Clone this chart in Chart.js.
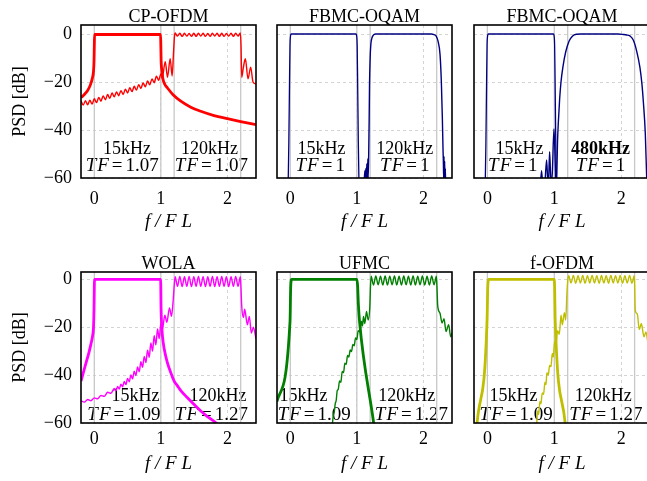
<!DOCTYPE html>
<html>
<head>
<meta charset="utf-8">
<script src="https://cdn.jsdelivr.net/npm/chart.js@4"></script>
<style>
  html, body { margin: 0; padding: 0; background: #fff; overflow: hidden; }
  #fig { position: relative; width: 647px; height: 481px; overflow: hidden; background: #fff; }
  #fig canvas { position: absolute; }
</style>
</head>
<body>
<div id="fig"></div>
<script>
var FONT = '"Liberation Serif", "Times New Roman", serif';
Chart.defaults.font.family = FONT;
Chart.defaults.color = '#000';

// axes
var xTicks = [0, 1, 2];
var yTicks = [0, -20, -40, -60];
var bandEdges = [0, 1, 1.2, 2.2];

// shared x positions of the ripple peaks/troughs inside the 120kHz band
var passX = [1.215, 1.25, 1.285, 1.32, 1.355, 1.39, 1.425, 1.46, 1.495, 1.53, 1.565, 1.6, 1.635, 1.67, 1.705,
  1.74, 1.775, 1.81, 1.845, 1.88, 1.915, 1.95, 1.985, 2.02, 2.055, 2.09, 2.125, 2.16, 2.195];

// CP-OFDM
var cp15X = [-0.2, -0.15, -0.1, -0.06, -0.03, -0.012, -0.004, 0, 0.004, 0.996, 1.0, 1.004, 1.012, 1.03, 1.06, 1.1,
  1.18, 1.3, 1.45, 1.6, 1.8, 2.0, 2.2, 2.43];
var cp15Y = [-26.5, -25.2, -23.5, -21.3, -18.5, -15.5, -11, -5, -0.2, -0.2, -5, -11, -14.5, -18.5, -21, -22.5,
  -25.2, -28, -30.5, -32.2, -34, -35.3, -36.5, -37.8];
var cp120X = [-0.2, -0.167, -0.133, -0.1, -0.067, -0.033, 0, 0.033, 0.067, 0.1, 0.133, 0.167, 0.2, 0.233, 0.267,
  0.3, 0.333, 0.367, 0.4, 0.433, 0.467, 0.5, 0.533, 0.567, 0.6, 0.633, 0.667, 0.7, 0.733, 0.767, 0.8, 0.833,
  0.867, 0.9, 0.933, 0.967, 1.0, 1.02, 1.066, 1.1, 1.14, 1.17, 1.19, 1.205, ...passX,
  2.205, 2.215, 2.24, 2.27, 2.31, 2.35, 2.385, 2.43];
var cp120Y = [-27.8, -29.6, -27.8, -29.5, -27.6, -29.2, -27.0, -28.6, -26.4, -28.0, -25.8, -27.4, -25.2, -26.8,
  -24.6, -26.2, -24.1, -25.7, -23.6, -25.2, -23.0, -24.6, -22.4, -24.0, -21.8, -23.4, -21.1, -22.7, -20.4, -22.0,
  -19.6, -21.2, -18.7, -20.3, -17.6, -19.3, -16.6, -18.5, -11.5, -18, -10.3, -17.5, -8, -1,
  0.4, -0.9, 0.3, -1.0, 0.3, -0.9, 0.2, -1.0, 0.3, -1.0, 0.3, -0.9, 0.3, -1.0, 0.2, -1.0, 0.3, -0.9, 0.3, -1.0,
  0.3, -1.0, 0.2, -0.9, 0.3, -1.0, 0.3, -0.9, 0.4,
  -5, -18, -14, -10.3, -18.7, -13.8, -20, -20.8];

// FBMC-OQAM
var fb15X = [-0.04, -0.022, -0.012, -0.005, 0.003, 0.015, 0.985, 0.997, 1.005, 1.012, 1.022, 1.04];
var fb15Y = [-75, -45, -20, -5, -0.8, 0, 0, -0.8, -5, -20, -45, -75];
var fb120X = [1.1, 1.11, 1.12, 1.125, 1.135, 1.14, 1.15, 1.155, 1.165, 1.17, 1.178, 1.185, 1.19, 1.2, 1.21,
  1.225, 1.245, 1.28, 2.12, 2.16, 2.19, 2.22, 2.25, 2.27, 2.285, 2.295, 2.3, 2.305, 2.31, 2.315, 2.32, 2.325,
  2.33, 2.335, 2.345];
var fb120Y = [-75, -62, -57, -62, -56, -62, -54, -62, -52, -60, -50, -36, -22, -10, -4.5, -1.8, -0.6, 0, 0,
  -0.3, -0.8, -3, -8.5, -20, -35, -48, -53, -60, -51, -62, -53, -63, -56, -65, -75];
var fb480X = [0.785, 0.81, 0.835, 0.86, 0.885, 0.905, 0.915, 0.93, 0.95, 0.97, 0.995, 1.015, 1.028, 1.038,
  1.048, 1.06, 1.08, 1.1, 1.13, 1.17, 1.22, 1.27, 1.33, 1.4, 1.95, 2.03, 2.08, 2.13, 2.18, 2.23, 2.28, 2.31,
  2.33, 2.36, 2.38, 2.4];
var fb480Y = [-66, -57, -66, -62, -52.5, -62, -61, -49, -62, -58, -39.6, -55, -66, -58, -45, -37, -27, -20,
  -13.5, -7.5, -3, -0.9, -0.1, 0, 0, -0.2, -0.4, -0.8, -2.5, -7, -14, -21, -28, -41.6, -59.6, -75];

// WOLA
var wo15X = [-0.2, -0.16, -0.12, -0.08, -0.05, -0.025, -0.012, -0.004, 0.003, 0.997, 1.003, 1.01, 1.025, 1.05,
  1.1, 1.15, 1.2, 1.25, 1.3, 1.4, 1.5, 1.6, 1.7, 1.8, 1.9];
var wo15Y = [-42.5, -38.5, -34.5, -30.5, -27, -23.5, -20, -12, -0.1, -0.1, -12, -18, -24, -29, -35, -39, -42.5,
  -44.5, -46.5, -49.5, -52.3, -55, -57.3, -59.3, -61.5];
var wo120X = [-0.2, -0.15, -0.1, -0.05, 0, 0.05, 0.1, 0.15, 0.2, 0.25, 0.3, 0.325, 0.35, 0.375, 0.4, 0.425,
  0.45, 0.475, 0.5, 0.525, 0.55, 0.575, 0.6, 0.625, 0.65, 0.675, 0.7, 0.725, 0.75, 0.775, 0.8, 0.825, 0.85,
  0.875, 0.9, 0.925, 0.95, 0.975, 1.0, 1.02, 1.06, 1.09, 1.13, 1.16, 1.185, 1.2, ...passX,
  2.205, 2.215, 2.24, 2.26, 2.3, 2.33, 2.36, 2.39, 2.43];
var wo120Y = [-50.8, -51.3, -50.2, -50.7, -49.5, -49.9, -48.5, -48.9, -47.2, -47.6, -45.6, -46.6, -44.8, -45.8,
  -43.8, -44.9, -42.7, -44.0, -41.4, -42.8, -40.0, -41.6, -38.4, -40.2, -36.6, -38.6, -34.4, -36.8, -32.2,
  -34.8, -29.6, -32.6, -26.6, -30.0, -23.6, -27.4, -20.8, -24.8, -18.5, -21.5, -15, -18, -12, -15.5, -9, -3,
  1.0, -3.0, 1.1, -3.1, 1.0, -3.0, 1.1, -3.1, 1.0, -3.0, 1.1, -3.0, 1.0, -3.1, 1.0, -3.0, 1.1, -3.1, 1.0, -3.0,
  1.1, -3.0, 1.0, -3.1, 1.0, -3.0, 1.1, -3.0, 1.0,
  -4, -11, -16, -12.5, -19, -15.5, -22.5, -20, -25];

// UFMC
var uf15X = [-0.2, -0.004, 0.006, 0.02, 1.0, 1.012, 1.022, 1.04, 1.25, 1.28];
var uf15Y = [-51, -17.5, -3, -0.1, -0.1, -3, -10, -17.5, -59.5, -66];
var uf120X = [0.625, 0.645, 0.66, 0.675, 0.69, 0.705, 0.72, 0.74, 0.76, 0.78, 0.8, 0.82, 0.84, 0.86, 0.88, 0.9,
  0.92, 0.94, 0.96, 0.98, 1.0, 1.02, 1.045, 1.07, 1.085, 1.1, 1.12, 1.145, 1.17, 1.195, 1.205, ...passX,
  2.205, 2.215, 2.25, 2.28, 2.31, 2.34, 2.38, 2.41, 2.43];
var uf120Y = [-63, -57, -55.5, -52, -50.5, -46.5, -46, -42.5, -43, -38.5, -39, -35, -35.5, -31.8, -32.5, -29.5,
  -30.2, -27.2, -27.8, -24.5, -25.2, -21.5, -22, -17.5, -19.5, -15.5, -18.5, -13.5, -17, -11.5, -3,
  1.2, -2.4, 1.3, -2.3, 1.2, -2.4, 1.3, -2.4, 1.2, -2.3, 1.3, -2.4, 1.2, -2.4, 1.3, -2.3, 1.2, -2.4, 1.3, -2.4,
  1.2, -2.3, 1.3, -2.4, 1.2, -2.4, 1.3, -2.3, 1.2,
  -4, -11, -14.2, -18.3, -16.5, -21.8, -19, -24, -22.5];

// f-OFDM
var fo15X = [-0.17, -0.155, -0.004, 0.006, 0.02, 1.0, 1.006, 1.012, 1.16, 1.175];
var fo15Y = [-66, -60.5, -16.5, -3, -0.1, -0.1, -5, -16, -59.5, -66];
var fo120X = [0.735, 0.75, 0.765, 0.785, 0.8, 0.82, 0.84, 0.86, 0.875, 0.89, 0.91, 0.93, 0.95, 0.97, 0.985,
  1.005, 1.025, 1.05, 1.075, 1.1, 1.12, 1.15, 1.17, 1.19, 1.205, ...passX,
  2.2, 2.21, 2.24, 2.27, 2.3, 2.34, 2.37, 2.41, 2.43];
var fo120Y = [-62, -55, -56.5, -51, -52, -47.5, -48, -43, -44, -39, -40, -36, -36.5, -31, -32.5, -26, -27, -21.5,
  -23, -15, -19, -14, -17, -5, 0.5,
  1.5, -1.6, 1.6, -1.7, 1.5, -1.6, 1.6, -1.7, 1.5, -1.6, 1.6, -1.6, 1.5, -1.7, 1.6, -1.6, 1.5, -1.7, 1.6, -1.6,
  1.5, -1.6, 1.6, -1.7, 1.5, -1.6, 1.6, -1.7, 1.5,
  -2, -13, -14.5, -21, -18.5, -24, -22, -28, -27];

// layout of the 2x3 grid (pixels)
var rows = [
  { top: 25, bottom: 178, yMax: 3.75, axisH: 56, tickPad: 10, titlePad: 1, noteY: [-47.9, -55.1] },
  { top: 272, bottom: 423, yMax: 3, axisH: 53, tickPad: 5, titlePad: 0.5, noteY: [-49, -56.7] }
];
var cols = [{ left: 81, right: 256 }, { left: 277, right: 452 }, { left: 474, right: 650 }];

var panels = [
  { title: 'CP-OFDM', row: 0, col: 0, color: '#ff0000', thick: 2.8, narrow: [cp15X, cp15Y], wide: [cp120X, cp120Y],
    notes: [['15kHz', 0.49], ['1.07', 0.42], ['120kHz', 1.73], ['1.07', 1.76]] },
  { title: 'FBMC-OQAM', row: 0, col: 1, color: '#000080', thick: 1.3, narrow: [fb15X, fb15Y], wide: [fb120X, fb120Y],
    notes: [['15kHz', 0.47], ['1', 0.45], ['120kHz', 1.72], ['1', 1.72]] },
  { title: 'FBMC-OQAM', row: 0, col: 2, color: '#000080', thick: 1.3, narrow: [fb15X, fb15Y], wide: [fb480X, fb480Y],
    notes: [['15kHz', 0.48], ['1', 0.38], ['480kHz', 1.69, true], ['1', 1.69]] },
  { title: 'WOLA', row: 1, col: 0, color: '#ff00ff', thick: 2.8, narrow: [wo15X, wo15Y], wide: [wo120X, wo120Y],
    notes: [['15kHz', 0.62], ['1.09', 0.445], ['120kHz', 1.86], ['1.27', 1.76]] },
  { title: 'UFMC', row: 1, col: 1, color: '#007f00', thick: 2.8, narrow: [uf15X, uf15Y], wide: [uf120X, uf120Y],
    notes: [['15kHz', 0.2], ['1.09', 0.36], ['120kHz', 1.75], ['1.27', 1.82]] },
  { title: 'f-OFDM', row: 1, col: 2, color: '#bfbf00', thick: 2.8, narrow: [fo15X, fo15Y], wide: [fo120X, fo120Y],
    notes: [['15kHz', 0.39], ['1.09', 0.43], ['120kHz', 1.73], ['1.27', 1.77]] }
];

function pts(xs, ys) {
  return xs.map(function (x, i) { return { x: x, y: ys[i] }; });
}

// "TF=value" with italic T and F
function drawTF(ctx, value, cx, cy) {
  var parts = [['T', 'italic', 1], ['F', 'italic', 3], ['=', 'normal', 3], [value, 'normal', 0]];
  var total = 0;
  parts.forEach(function (p) {
    ctx.font = p[1] + ' 19px ' + FONT;
    p.w = ctx.measureText(p[0]).width;
    total += p.w + p[2];
  });
  var x = cx - total / 2;
  ctx.textAlign = 'left';
  parts.forEach(function (p) {
    ctx.font = p[1] + ' 19px ' + FONT;
    ctx.fillText(p[0], x, cy);
    x += p.w + p[2];
  });
}

var decor = {
  id: 'panelDecor',
  beforeDatasetsDraw: function (chart, args, opts) {
    var ctx = chart.ctx, xs = chart.scales.x, ys = chart.scales.y;
    ctx.save();
    ctx.fillStyle = '#000';
    ctx.textBaseline = 'middle';
    opts.notes.forEach(function (n, i) {
      var px = xs.getPixelForValue(n[1]);
      var py = ys.getPixelForValue(opts.noteY[i % 2]);
      if (i % 2 === 0) {
        ctx.font = (n[2] ? 'bold ' : '') + '18px ' + FONT;
        ctx.textAlign = 'center';
        ctx.fillText(n[0], px, py);
      } else {
        drawTF(ctx, n[0], px, py);
      }
    });
    ctx.restore();
  },
  afterDatasetsDraw: function (chart) {
    var a = chart.chartArea, ctx = chart.ctx;
    ctx.save();
    ctx.strokeStyle = '#000';
    ctx.lineWidth = 1.6;
    ctx.strokeRect(a.left, a.top, a.right - a.left, a.bottom - a.top);
    ctx.restore();
  }
};

function buildPanel(p) {
  var row = rows[p.row], col = cols[p.col];
  var yAxisW = 81, titleH = 17, padRight = 6;
  var canvas = document.createElement('canvas');
  canvas.width = yAxisW + (col.right - col.left) + padRight;
  canvas.height = titleH + (row.bottom - row.top) + row.axisH;
  canvas.style.width = canvas.width + 'px';
  canvas.style.height = canvas.height + 'px';
  canvas.style.left = (col.left - yAxisW) + 'px';
  canvas.style.top = (row.top - titleH) + 'px';
  document.getElementById('fig').appendChild(canvas);

  // light grey band edges
  var datasets = bandEdges.map(function (e) {
    return { data: [{ x: e, y: -60 }, { x: e, y: row.yMax }], borderColor: '#c8c8c8', borderWidth: 1.3,
      cubicInterpolationMode: 'default', tension: 0, order: 10 };
  });
  datasets.push({ data: pts(p.narrow[0], p.narrow[1]), borderColor: p.color, borderWidth: p.thick, order: 2 });
  datasets.push({ data: pts(p.wide[0], p.wide[1]), borderColor: p.color, borderWidth: 1.4, order: 1 });

  new Chart(canvas, {
    type: 'line',
    data: { datasets: datasets },
    plugins: [decor],
    options: {
      responsive: false,
      animation: false,
      events: [],
      devicePixelRatio: 1,
      layout: { padding: { left: 0, top: 0, right: padRight, bottom: 0 }, autoPadding: false },
      elements: {
        point: { radius: 0 },
        line: { cubicInterpolationMode: 'monotone', borderJoinStyle: 'round', fill: false }
      },
      datasets: { line: { clip: 0, pointRadius: 0 } },
      plugins: {
        legend: { display: false },
        tooltip: { enabled: false },
        title: {
          display: true, text: p.title, fullSize: false, color: '#000',
          font: { size: 18, weight: 'normal', lineHeight: 1 },
          padding: { top: 0, bottom: -1 }
        },
        panelDecor: { notes: p.notes, noteY: row.noteY }
      },
      scales: {
        x: {
          type: 'linear', min: -0.2, max: 2.43,
          afterBuildTicks: function (s) { s.ticks = xTicks.map(function (v) { return { value: v }; }); },
          afterFit: function (s) { s.height = row.axisH; s.paddingLeft = 0; s.paddingRight = 0; },
          ticks: { padding: row.tickPad, font: { size: 18 }, color: '#000', maxRotation: 0, autoSkip: false,
            callback: function (v) { return String(v); } },
          grid: { color: '#d4d4d4', lineWidth: 1, drawTicks: false },
          border: { display: false, dash: [3, 3] },
          title: { display: true, text: 'f / F L', color: '#000', font: { size: 19, style: 'italic' },
            padding: { top: 0, bottom: row.titlePad } }
        },
        y: {
          type: 'linear', min: -60, max: row.yMax,
          afterBuildTicks: function (s) { s.ticks = yTicks.map(function (v) { return { value: v }; }); },
          afterFit: function (s) { s.width = yAxisW; s.paddingTop = 0; s.paddingBottom = 0; },
          ticks: { display: p.col === 0, padding: 9, font: { size: 18 }, color: '#000',
            callback: function (v) { return v === 0 ? '0' : '\u2212' + Math.abs(v); } },
          grid: { color: '#d4d4d4', lineWidth: 1, drawTicks: false },
          border: { display: false, dash: [3, 3] },
          title: { display: p.col === 0, text: 'PSD [dB]', color: '#000', font: { size: 18 },
            padding: { top: 9, bottom: 0 } }
        }
      }
    }
  });
}

panels.forEach(buildPanel);
</script>
</body>
</html>
